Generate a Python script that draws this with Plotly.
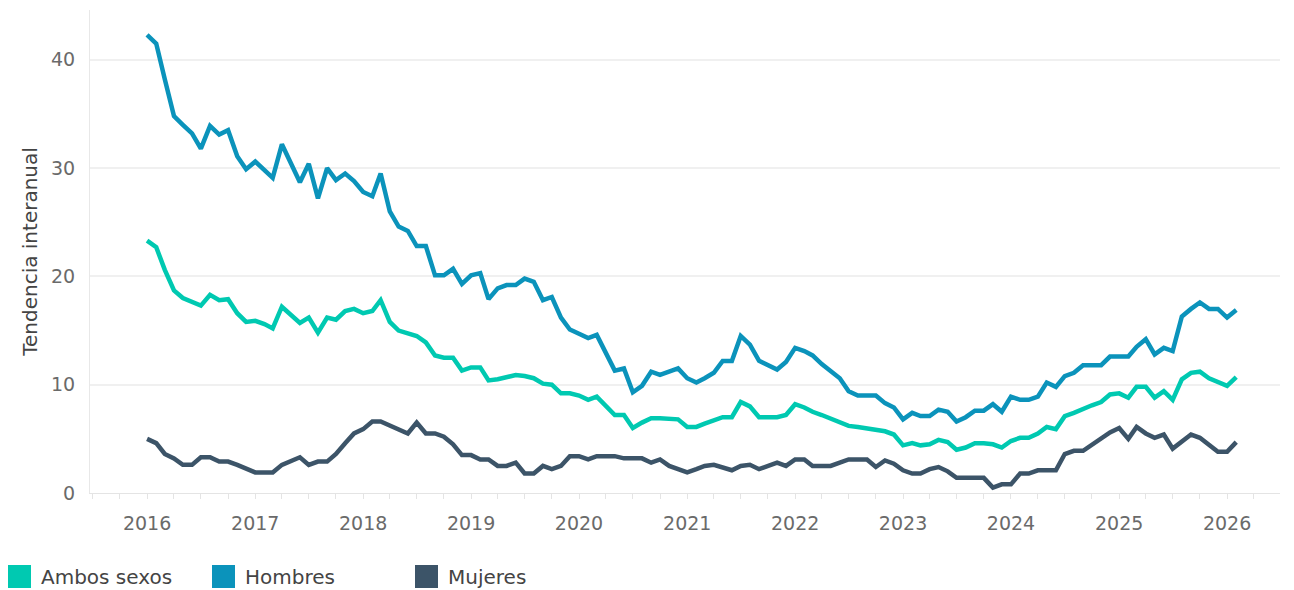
import pandas as pd
import plotly.graph_objects as go

# ---- data (monthly, Jan 2016 - Feb 2026) ----
start_month = "2016-01-01"
n_months = 122

ambos_sexos = [23.3, 22.7, 20.6, 18.7, 18.0, 17.7, 17.3, 18.3, 17.8, 17.9,
               16.6, 15.8, 15.9, 15.6, 15.2, 17.2, 16.5, 15.7, 16.2, 14.8,
               16.2, 16.0, 16.8, 17.0, 16.6, 16.8, 17.8, 15.8, 15.0, 14.7,
               14.5, 13.9, 12.7, 12.5, 12.5, 11.3, 11.6, 11.6, 10.4, 10.5,
               10.7, 10.9, 10.8, 10.6, 10.1, 10.0, 9.2, 9.2, 9.0, 8.6,
               8.9, 8.1, 7.2, 7.2, 6.0, 6.5, 6.9, 6.9, 6.8, 6.8,
               6.1, 6.1, 6.4, 6.7, 7.0, 7.0, 8.4, 8.0, 7.0, 7.0,
               7.0, 7.2, 8.2, 7.9, 7.5, 7.2, 6.9, 6.6, 6.2, 6.1,
               6.0, 5.8, 5.7, 5.4, 4.4, 4.6, 4.4, 4.5, 4.9, 4.7,
               4.0, 4.2, 4.6, 4.6, 4.5, 4.2, 4.8, 5.1, 5.1, 5.5,
               6.1, 5.9, 7.1, 7.4, 7.8, 8.1, 8.4, 9.1, 9.2, 8.8,
               9.8, 9.8, 8.8, 9.4, 8.6, 10.5, 11.1, 11.2, 10.6, 10.3,
               9.9, 10.7]

hombres = [42.3, 41.5, 38.2, 34.8, 34.0, 33.2, 31.8, 33.9, 33.1, 33.5,
           31.1, 29.9, 30.6, 29.8, 29.1, 32.2, 30.5, 28.7, 30.4, 27.2,
           30.0, 28.9, 29.5, 28.8, 27.8, 27.4, 29.5, 26.0, 24.6, 24.2,
           22.8, 22.8, 20.1, 20.1, 20.7, 19.3, 20.1, 20.3, 17.9, 18.9,
           19.2, 19.2, 19.8, 19.5, 17.8, 18.1, 16.2, 15.1, 14.7, 14.3,
           14.6, 12.9, 11.3, 11.5, 9.3, 9.9, 11.2, 10.9, 11.2, 11.5,
           10.6, 10.2, 10.6, 11.1, 12.2, 12.2, 14.5, 13.7, 12.2, 11.8,
           11.4, 12.1, 13.4, 13.1, 12.7, 11.9, 11.3, 10.6, 9.4, 9.0,
           9.0, 9.0, 8.3, 7.9, 6.8, 7.4, 7.1, 7.1, 7.7, 7.5,
           6.6, 7.0, 7.6, 7.6, 8.2, 7.5, 8.9, 8.6, 8.6, 8.9,
           10.2, 9.8, 10.8, 11.1, 11.8, 11.8, 11.8, 12.6, 12.6, 12.6,
           13.5, 14.2, 12.8, 13.4, 13.1, 16.3, 17.0, 17.6, 17.0, 17.0,
           16.2, 16.9]

mujeres = [5.0, 4.6, 3.6, 3.2, 2.6, 2.6, 3.3, 3.3, 2.9, 2.9,
           2.6, 2.2, 1.9, 1.9, 1.9, 2.6, 3.0, 3.3, 2.6, 2.9,
           2.9, 3.6, 4.6, 5.5, 5.9, 6.6, 6.6, 6.2, 5.9, 5.5,
           6.5, 5.5, 5.5, 5.2, 4.5, 3.5, 3.5, 3.1, 3.1, 2.5,
           2.5, 2.8, 1.8, 1.8, 2.5, 2.2, 2.5, 3.4, 3.4, 3.1,
           3.4, 3.4, 3.4, 3.2, 3.2, 3.2, 2.8, 3.1, 2.5, 2.2,
           1.9, 2.2, 2.5, 2.6, 2.3, 2.1, 2.5, 2.6, 2.2, 2.5,
           2.8, 2.5, 3.1, 3.1, 2.5, 2.5, 2.5, 2.8, 3.1, 3.1,
           3.1, 2.4, 3.0, 2.7, 2.1, 1.8, 1.8, 2.2, 2.4, 2.0,
           1.4, 1.4, 1.4, 1.4, 0.5, 0.8, 0.8, 1.8, 1.8, 2.1,
           2.1, 2.1, 3.6, 3.9, 3.9, 4.5, 5.0, 5.6, 6.0, 5.0,
           6.1, 5.5, 5.1, 5.4, 4.1, 4.8, 5.4, 5.1, 4.4, 3.8,
           3.8, 4.7]

series_names = ["Ambos sexos", "Hombres", "Mujeres"]
series_colors = ["#00c9b1", "#0b93bb", "#3c5468"]
y_title = "Tendencia interanual"

dates = pd.date_range(start_month, periods=n_months, freq="MS")

# ---- layout geometry (page has an 8px body margin) ----
OFF = 8
W, H = 1294 - 2 * OFF, 590 - OFF
ML = 90 - OFF
MT = 10 - OFF
PLOT_BOTTOM = 493 - OFF
PLOT_RIGHT = 1280 - OFF
MB = H - PLOT_BOTTOM
MR = W - PLOT_RIGHT
PW, PH = W - ML - MR, H - MT - MB
FONT = "DejaVu Sans"


def px_x(px):
    # px given in page pixels
    return (px - OFF - ML) / PW


def px_y(py):
    return (PLOT_BOTTOM - (py - OFF)) / PH


fig = go.Figure()
for name, vals, col in zip(series_names, [ambos_sexos, hombres, mujeres], series_colors):
    fig.add_trace(go.Scatter(x=dates, y=vals, name=name, mode="lines",
                             line=dict(color=col, width=4.5),
                             showlegend=False))

# custom legend (square swatches)
legend_x = [8, 212, 415]
shapes, annotations = [], []
for lx, name, col in zip(legend_x, series_names, series_colors):
    shapes.append(dict(type="rect", xref="paper", yref="paper",
                       x0=px_x(lx), x1=px_x(lx + 23), y0=px_y(588), y1=px_y(565),
                       fillcolor=col, line=dict(width=0)))
    annotations.append(dict(xref="paper", yref="paper", x=px_x(lx + 31), y=px_y(577),
                            xanchor="left", yanchor="middle", showarrow=False,
                            text=name, font=dict(family=FONT, size=20, color="#444444")))

fig.update_layout(
    width=W, height=H,
    margin=dict(l=ML, r=MR, t=MT, b=MB, autoexpand=False),
    paper_bgcolor="white", plot_bgcolor="white",
    font=dict(family=FONT, color="#555555"),
    showlegend=False,
    shapes=shapes,
    annotations=annotations,
    xaxis=dict(
        range=["2015-06-22", "2026-06-29"],
        dtick="M12", tickformat="%Y",
        tickfont=dict(family=FONT, size=19, color="#6a6a6a"),
        ticks="outside", ticklen=5, tickcolor="#e4e4e4", tickwidth=1,
        ticklabelstandoff=8,
        minor=dict(dtick="M3", ticks="outside", ticklen=5, tickcolor="#e4e4e4", showgrid=False),
        showgrid=False, zeroline=False,
        showline=True, linecolor="#e4e4e4", linewidth=1,
        automargin=False,
    ),
    yaxis=dict(
        range=[0, 44.6], dtick=10,
        tickfont=dict(family=FONT, size=19, color="#6a6a6a"),
        ticklabelstandoff=10,
        showgrid=True, gridcolor="#f0f0f0", gridwidth=1.5,
        zeroline=False,
        showline=True, linecolor="#e8e8e8", linewidth=1,
        title=dict(text=y_title, font=dict(family=FONT, size=20, color="#444444"), standoff=8),
        automargin=False,
    ),
)

fig.write_html("out.html")
